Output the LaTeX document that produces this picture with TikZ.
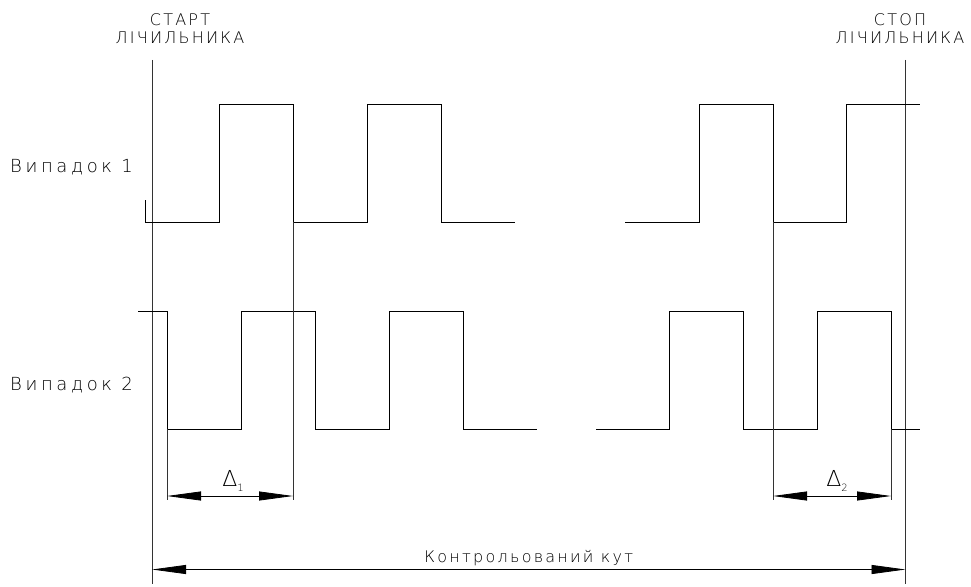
\documentclass[tikz,border=0pt]{standalone}
\usepackage{fontspec}
\setmainfont{DejaVu Sans}
\newfontfamily\cadfont[LetterSpace=14]{DejaVu Sans ExtraLight}
\newfontfamily\casefont[LetterSpace=20]{DejaVu Sans ExtraLight}
\usetikzlibrary{arrows.meta}
\tikzset{
    sig/.style={line width=0.9pt},
    guide/.style={line width=0.8pt, black!80},
    dimline/.style={line width=0.8pt, {Triangle[length=34pt,width=9pt]}-{Triangle[length=34pt,width=9pt]}},
    lbl/.style={font=\cadfont\fontsize{16}{18}\selectfont, inner sep=0pt},
    caselbl/.style={font=\casefont\fontsize{18}{18}\selectfont, inner sep=0pt, anchor=west}
}
\newcommand{\dlt}[1]{\fontsize{22}{22}\selectfont Δ\raisebox{-5pt}{\fontsize{10}{10}\selectfont #1}}
\begin{document}
\begin{tikzpicture}[x=1pt, y=-1pt]
        \useasboundingbox (0,0) rectangle (971,586);

        % start / stop of the counter
        \draw[guide] (152,60) -- (152,584);
        \draw[guide] (905.5,60) -- (905.5,584);
        \node[lbl, align=center] (start) at (180,29) {СТАРТ\\ЛІЧИЛЬНИКА};
        \node[lbl, align=center] (stop) at (900,29) {СТОП\\ЛІЧИЛЬНИКА};

        % case 1
        \node[caselbl] (case1) at (10,167) {Випадок 1};
        \draw[sig] (145,200) -- (145,222)
            \foreach \x in {219,367} {-- (\x,222) -- (\x,104) -- (\x+74,104) -- (\x+74,222)} -- (515,222);
        \draw[sig] (625,222) -- (699,222) -- (699,104) -- (773,104) -- (773,222)
            -- (846,222) -- (846,104) -- (920,104);

        % case 2
        \node[caselbl] (case2) at (10,385) {Випадок 2};
        \draw[sig] (138,311) -- (167,311) -- (167,429)
            \foreach \x in {241,389} {-- (\x,429) -- (\x,311) -- (\x+74,311) -- (\x+74,429)} -- (537,429);
        \draw[sig] (596,429)
            \foreach \x in {669,817} {-- (\x,429) -- (\x,311) -- (\x+74,311) -- (\x+74,429)} -- (920,429);

        % extension lines
        \coordinate (d1a) at (167,496);
        \coordinate (d1b) at (293,496);
        \coordinate (d2a) at (773,496);
        \coordinate (d2b) at (891,496);
        \draw[guide] (167,429) -- (167,500);
        \draw[guide] (293,222) -- (293,500);
        \draw[guide] (773,222) -- (773,500);
        \draw[guide] (891,429) -- (891,500);

        % deltas
        \draw[dimline] (d1a) -- (d1b);
        \node[lbl] (delta1) at (233,481) {\dlt{1}};
        \draw[dimline] (d2a) -- (d2b);
        \node[lbl] (delta2) at (837,481) {\dlt{2}};

        % controlled angle
        \coordinate (ka) at (152,569.5);
        \coordinate (kb) at (905.5,569.5);
        \draw[dimline] (ka) -- node[lbl, above=3pt] (angle) {Контрольований кут} (kb);

    \end{tikzpicture}
\end{document}
